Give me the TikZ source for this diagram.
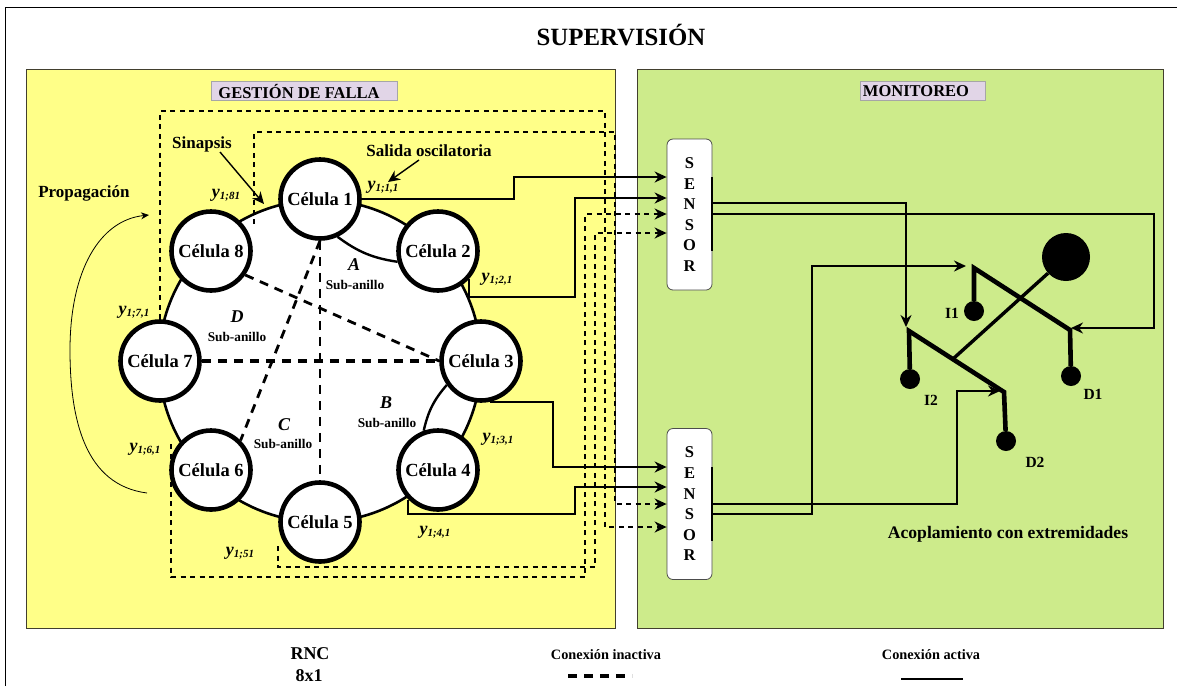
\documentclass[tikz,border=0pt]{standalone}
\usepackage{fontspec}
\setmainfont{Liberation Serif}
\usetikzlibrary{arrows.meta,positioning,calc}
\definecolor{panelyellow}{HTML}{FFFF88}
\definecolor{panelgreen}{HTML}{CDEB8B}
\definecolor{tagfill}{HTML}{E1D5E7}
\newcommand{\fsz}[1]{\fontsize{#1}{#1}\selectfont}
\newcommand{\ysub}[1]{{\fsz{18}\bfseries\itshape y}{\fsz{11}\bfseries\itshape\raisebox{-2.5pt}{#1}}}
\tikzset{
	panel/.style={draw=black!70!olive, line width=1pt, inner sep=0pt},
	tagbox/.style={draw=black!35, fill=tagfill, line width=0.8pt, minimum height=19pt, inner sep=0pt},
	tagtext/.style={font=\fsz{16.5}\bfseries, inner sep=0pt},
	cell/.style={circle, draw, fill=white, line width=4.6pt, minimum size=79pt, inner sep=0pt, font=\fsz{18.5}\bfseries},
	sensorbox/.style={draw=black!70, fill=white, rounded corners=6pt, line width=0.8pt, minimum width=45pt, minimum height=151pt, inner sep=0pt, align=center, font=\fontsize{16.5}{20.6}\selectfont\bfseries},
	active/.style={line width=1.9pt},
	inactive/.style={line width=1.7pt, dash pattern=on 5pt off 4.5pt},
	inner/.style={line width=2.8pt, dash pattern=on 9pt off 7pt},
	innerheavy/.style={line width=3.3pt, dash pattern=on 9pt off 7pt},
	limb/.style={line width=4.6pt},
	footdot/.style={circle, fill=black, minimum size=20pt, inner sep=0pt},
	tip/.style={-{Stealth[length=12pt,width=11pt]}},
	lbl/.style={font=\fsz{17}\bfseries},
	sublbl/.style={font=\fsz{13.3}\bfseries},
	legendlbl/.style={font=\fsz{14.3}\bfseries},
	ringlbl/.style={font=\fsz{18}\bfseries\itshape},
}
\begin{document}
\begin{tikzpicture}[x=1pt, y=-1pt]
	\useasboundingbox (0,0) rectangle (1177,686);
	\draw [line width=1pt] (5,686) -- (5,7.5) -- (1177,7.5);
	\node [font=\fsz{24.8}\bfseries] (title) at (621,35) {SUPERVISIÓN};

	% panels
	\node [panel, fill=panelyellow, minimum width=589pt, minimum height=559pt] (fault) at (320.5,348.5) {};
	\node [panel, fill=panelgreen, minimum width=526pt, minimum height=559pt] (monitor) at (900,348.5) {};
	\node [tagbox, minimum width=186pt] (faulttag) at (304,90.5) {};
	\node [tagbox, minimum width=125pt] (monitortag) at (922.5,90.5) {};
	\node [tagtext] (faultlbl) at (299,91) {GESTIÓN DE FALLA};
	\node [tagtext] (monitorlbl) at (916,91) {MONITOREO};

	% ring of cells
	\node [circle, draw, fill=white, line width=2.6pt, minimum size=322pt] (ring) at (320,361) {};
	\node [cell] (c1) at (320,199) {Célula 1};
	\node [cell] (c2) at (438,251) {Célula 2};
	\node [cell] (c3) at (481,361) {Célula 3};
	\node [cell] (c4) at (438,470) {Célula 4};
	\node [cell] (c5) at (320,522) {Célula 5};
	\node [cell] (c6) at (211,470) {Célula 6};
	\node [cell] (c7) at (160,361) {Célula 7};
	\node [cell] (c8) at (211,251) {Célula 8};

	% sub-rings
	\draw [line width=2.4pt] (c1.-65) to [bend right=14] (c2.195);
	\draw [line width=2.4pt] (c3.215) to [bend right=14] (c4.110);
	\draw [inner] (c1.south) -- (c5.north);
	\draw [inner] (c1.south) -- (c6.45);
	\draw [inner] (c8.-35) -- (c3.west);
	\draw [innerheavy] (c7.east) -- (c3.west);

	% sensors
	\node [sensorbox] (s1) at (689.5,214.5) {S\\E\\N\\S\\O\\R};
	\node [sensorbox] (s2) at (689.5,504) {S\\E\\N\\S\\O\\R};
	\draw [line width=2.4pt] (712,177) -- (712,251);
	\draw [line width=2.4pt] (712,467) -- (712,541);

	\coordinate (s1a) at (s1.west |- 0,177);
	\coordinate (s1b) at (s1.west |- 0,198);
	\coordinate (s1c) at (s1.west |- 0,214);
	\coordinate (s1d) at (s1.west |- 0,233);
	\coordinate (s2a) at (s2.west |- 0,467);
	\coordinate (s2b) at (s2.west |- 0,487);
	\coordinate (s2c) at (s2.west |- 0,504);
	\coordinate (s2d) at (s2.west |- 0,527);
	\coordinate (o8) at (254,224);
	\coordinate (o6) at (171,444);
	\coordinate (o5) at (278,546);

	% inactive outputs
	\draw [inactive, tip] (c7.north) |- (605,111) |- (s2d);
	\draw [inactive, tip] (o8) |- (615,132) |- (s2c);
	\draw [inactive, tip] (o6) |- (585,577) |- (s1c);
	\draw [inactive, tip] (o5) |- (595,567) |- (s1d);

	% active outputs
	\draw [active, tip] (c1.east) -| (514,177) -- (s1a);
	\draw [active, tip] (c2.-42) |- (575,297) |- (s1b);
	\draw [active, tip] (c3.-78) -| (553,467) -- (s2a);
	\draw [active, tip] (c4.-135) |- (575,514) |- (s2b);

	% limbs
	\node [circle, fill=black, minimum size=48pt, inner sep=0pt] (head) at (1066,257) {};
	\coordinate (hipA) at (974,268);
	\coordinate (kneeA) at (1070,330);
	\coordinate (hipB) at (909,331);
	\coordinate (kneeB) at (1004,392);
	\coordinate (waist) at (954,358);
	\node [footdot] (i1) at (974,311) {};
	\node [footdot] (d1) at (1071,376) {};
	\node [footdot] (i2) at (910,379) {};
	\node [footdot] (d2) at (1006,441) {};
	\draw [line width=3.4pt] (head) -- (waist);
	\draw [limb] (i1) -- (hipA) -- (kneeA) -- (d1);
	\draw [limb] (i2) -- (hipB) -- (kneeB) -- (d2);
	\node [lbl, font=\fsz{15.5}\bfseries] (i1lbl) at (952,313) {I1};
	\node [lbl, font=\fsz{15.5}\bfseries] (i2lbl) at (931,400) {I2};
	\node [lbl, font=\fsz{15.5}\bfseries] (d1lbl) at (1093,394) {D1};
	\node [lbl, font=\fsz{15.5}\bfseries] (d2lbl) at (1035,462) {D2};
	\node [lbl, font=\fsz{17.6}\bfseries] (coupling) at (1008,534) {Acoplamiento con extremidades};

	% sensor outputs to limbs
	\draw [active, tip] (712,203) -| ($(hipB)+(-3,-4)$);
	\draw [active, tip] (712,214) -| (1154,328) -- ($(kneeA)+(1,-2)$);
	\draw [active, tip] (712,504) -| (957,391) -- ($(kneeB)+(-4,-1)$);
	\draw [active, tip] (712,514) -| (812,266) -- ($(hipA)+(-8,-2)$);

	% annotations
	\node [lbl] (prop) at (84,193) {Propagación};
	\coordinate (propa) at (147,493);
	\coordinate (propb) at (149,215);
	\draw [line width=0.8pt, -{Stealth[length=8pt,width=7pt]}] (propa) .. controls (85,485) and (70,420) .. (70,350) .. controls (70,270) and (100,220) .. (propb);
	\node [lbl] (sinapsis) at (202,144) {Sinapsis};
	\coordinate (sinapsisfrom) at (220,152);
	\coordinate (sinapsisend) at (264,204);
	\draw [line width=1.4pt, tip] (sinapsisfrom) -- (sinapsisend);
	\node [lbl] (salida) at (429,151) {Salida oscilatoria};
	\coordinate (salidafrom) at (419,160);
	\coordinate (salidaend) at (388,182);
	\draw [line width=1.4pt, tip] (salidafrom) -- (salidaend);
	\node (y1) at (383,187) {\ysub{1;1,1}};
	\node (y8) at (226,195) {\ysub{1;81}};
	\node (y2) at (497,279) {\ysub{1;2,1}};
	\node (y7) at (134,312) {\ysub{1;7,1}};
	\node (y6) at (145,449) {\ysub{1;6,1}};
	\node (y3) at (498,439) {\ysub{1;3,1}};
	\node (y4) at (435,532) {\ysub{1;4,1}};
	\node (y5) at (240,553) {\ysub{1;51}};
	\node [ringlbl] (la) at (354,265) {A};
	\node [sublbl] (sa) at (355,285) {Sub-anillo};
	\node [ringlbl] (lb) at (386,403) {B};
	\node [sublbl] (sb) at (387,423) {Sub-anillo};
	\node [ringlbl] (lc) at (284,425) {C};
	\node [sublbl] (sc) at (283,444) {Sub-anillo};
	\node [ringlbl] (ld) at (237,317) {D};
	\node [sublbl] (sd) at (237,337) {Sub-anillo};

	% legend
	\node [lbl, font=\fsz{18}\bfseries] (rnc) at (310,654) {RNC};
	\node [lbl, font=\fsz{18}\bfseries] (size) at (309,676) {8x1};
	\node [legendlbl] (offlbl) at (606,655) {Conexión inactiva};
	\coordinate (offa) at (568,676);
	\coordinate (offb) at (632,676);
	\draw [innerheavy] (offa) -- (offb);
	\node [legendlbl] (onlbl) at (931,655) {Conexión activa};
	\coordinate (ona) at (901,679);
	\coordinate (onb) at (963,679);
	\draw [line width=2.8pt] (ona) -- (onb);
\end{tikzpicture}
\end{document}
